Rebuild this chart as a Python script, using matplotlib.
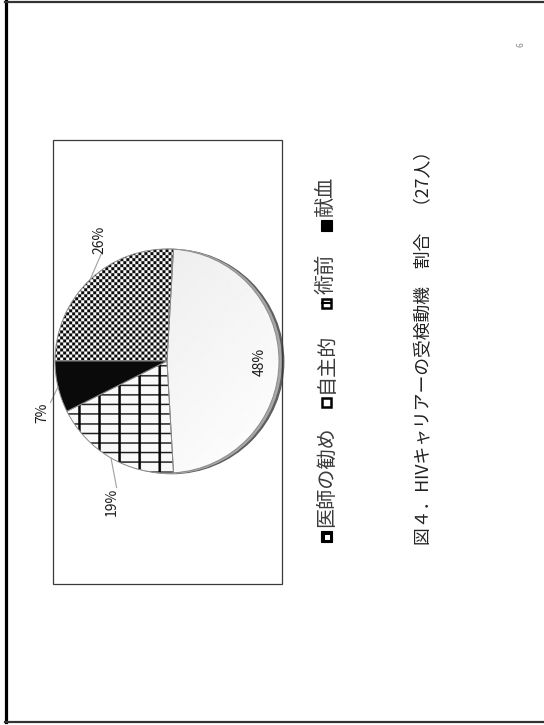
import numpy as np
import matplotlib
matplotlib.use('Agg')
import matplotlib.pyplot as plt
from matplotlib.patches import Rectangle, Circle
from matplotlib.lines import Line2D

plt.rcParams['font.family'] = ['Noto Sans CJK JP', 'DejaVu Sans']

# ---- data ----
categories = ['医師の勧め', '自主的', '術前', '献血']
counts = [7, 13, 5, 2]          # 27人
caption = '図４．HIVキャリアーの受検動機　割合　（27人）'
page_no = '6'

W, H = 544, 725
fig = plt.figure(figsize=(W / 100, H / 100), dpi=100)

def fx(x):
    return x / W

def fy(y):
    return 1 - y / H

# page border
fig.add_artist(Line2D([fx(5.5), fx(5.5)], [fy(1), fy(722)], color='black', lw=2.3))
fig.add_artist(Line2D([fx(5), fx(544)], [fy(1.5), fy(1.5)], color='#333333', lw=1.6))
fig.add_artist(Line2D([fx(5), fx(544)], [fy(721.5), fy(721.5)], color='#333333', lw=1.6))

# chart box
fig.add_artist(Rectangle((fx(52.7), fy(584)), (281.7 - 52.7) / W, (584 - 140) / H,
                         transform=fig.transFigure, fill=False, edgecolor='#3a3a3a', lw=0.9))

# pie axes
cx, cy, R = 167, 361, 112
L = 1.3
ax = fig.add_axes([(cx - L * R) / W, 1 - (cy + L * R) / H, 2 * L * R / W, 2 * L * R / H])

wedges, _ = ax.pie(counts, startangle=180, counterclock=False,
                   colors=['none', 'none', 'none', '#0a0a0a'],
                   wedgeprops=dict(edgecolor='#8a8a8a', linewidth=0.7, zorder=3))
ax.set_xlim(-L, L)
ax.set_ylim(-L, L)
ax.axis('off')

# shadow crescent on right
ax.add_patch(Circle((0.042, -0.005), 1.0, color='#5e5e5e', zorder=0.5))
ax.add_patch(Circle((0.020, -0.002), 1.0, color='#a8a8a8', zorder=0.6))

# pixel grids for fills
S = 2
N = int(round(2 * L * R * S))
ii, jj = np.mgrid[0:N, 0:N] / S
img_x = cx - L * R + jj
img_y = cy - L * R + ii
ext = [-L, L, -L, L]

# checker
sq = 3.0
checker = ((np.floor(img_x / sq) + np.floor(img_y / sq)) % 2)
im1 = ax.imshow(checker * 0.95 + 0.04, cmap='gray', vmin=0, vmax=1, extent=ext,
                origin='upper', interpolation='antialiased', zorder=1)
im1.set_clip_path(wedges[0])

# white gradient
t = ((img_x - (cx - R)) + (img_y - (cy - R))) / (4 * R)
grad = 0.91 + 0.09 * np.clip(t, 0, 1)
im2 = ax.imshow(grad, cmap='gray', vmin=0, vmax=1, extent=ext,
                origin='upper', interpolation='antialiased', zorder=1)
im2.set_clip_path(wedges[1])

# grid fill
gridimg = np.ones((N, N)) * 0.98
hl = ((img_y - 384.0) % 9.6) < 1.5
vl = ((img_x - 78.0) % 20.0) < 2.6
gridimg[hl] = 0.12
gridimg[vl] = 0.03
im3 = ax.imshow(gridimg, cmap='gray', vmin=0, vmax=1, extent=ext,
                origin='upper', interpolation='antialiased', zorder=1)
im3.set_clip_path(wedges[2])

# labels
total = sum(counts)
pcts = [f'{100 * c / total:.0f}%' for c in counts]
label_pos = [(-0.60, 1.08), (0.83, -0.01), (-0.49, -1.26), (-1.11, -0.46)]
leader_end = [(-0.59, 0.95), None, (-0.45, -1.13), (-1.04, -0.37)]
for w, p, pos, le in zip(wedges, pcts, label_pos, leader_end):
    ax.text(pos[0], pos[1], p, rotation=90, ha='center', va='center',
            fontsize=10, color='#1a1a1a', zorder=5)
    if le is not None:
        mid = np.deg2rad((w.theta1 + w.theta2) / 2)
        ax.plot([np.cos(mid), le[0]], [np.sin(mid), le[1]], color='#a0a0a0', lw=0.8, zorder=4)

# legend (rotated)
lx = 326
marker_y = [536, 402, 303, 225]
ms = 11
for k, (cat, my) in enumerate(zip(categories, marker_y)):
    x0, y0 = lx - ms / 2, my + ms / 2
    if k == 0:
        fig.add_artist(Rectangle((fx(x0), fy(y0)), ms / W, ms / H, transform=fig.transFigure,
                                 facecolor='black', edgecolor='black', lw=0.8))
        fig.add_artist(Rectangle((fx(x0 + 4), fy(y0 - 2)), 5 / W, 5 / H, transform=fig.transFigure,
                                 facecolor='white', edgecolor='none'))
    elif k == 1:
        fig.add_artist(Rectangle((fx(x0 + 1), fy(y0 - 1)), (ms - 2) / W, (ms - 2) / H,
                                 transform=fig.transFigure, facecolor='white',
                                 edgecolor='black', lw=1.8))
    elif k == 2:
        fig.add_artist(Rectangle((fx(x0 + 1), fy(y0 - 1)), (ms - 2) / W, (ms - 2) / H,
                                 transform=fig.transFigure, facecolor='white',
                                 edgecolor='black', lw=1.8))
        fig.add_artist(Line2D([fx(x0 + 1), fx(x0 + ms - 1)], [fy(my), fy(my)], color='black', lw=1.5))
    else:
        fig.add_artist(Rectangle((fx(x0), fy(y0)), ms / W, ms / H, transform=fig.transFigure,
                                 facecolor='black', edgecolor='black', lw=0.8))
    fig.text(fx(lx), fy(my - 9), cat, rotation=90, ha='center', va='bottom',
             fontsize=14.5, color='#3c3c3c')

# caption
fig.text(fx(423), fy(545), caption, rotation=90, ha='center', va='bottom',
         fontsize=12.8, color='#222222')

# page number
fig.text(fx(521), fy(45), page_no, rotation=90, ha='center', va='center',
         fontsize=6, color='#888888')

fig.savefig('out.png', dpi=100, facecolor='white')
